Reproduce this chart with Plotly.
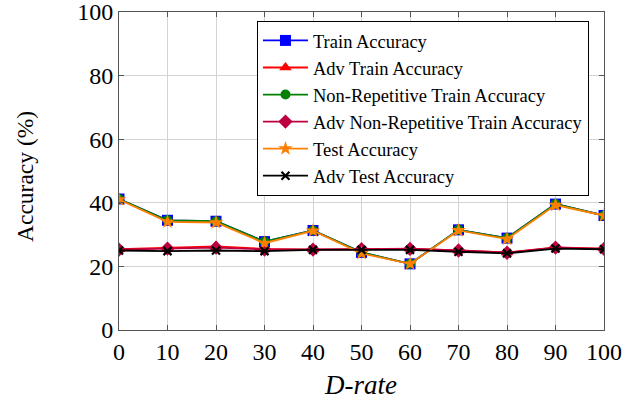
import plotly.graph_objects as go

d_rate = [0, 10, 20, 30, 40, 50, 60, 70, 80, 90, 100]
train_acc = [41.2, 34.5, 34.2, 27.8, 31.3, 24.4, 20.8, 31.5, 28.9, 39.6, 36.0]
adv_train_acc = [25.4, 25.9, 26.3, 25.5, 25.3, 25.4, 25.6, 25.0, 24.4, 26.0, 25.6]
nonrep_train_acc = [41.2, 34.5, 34.2, 27.8, 31.3, 24.4, 20.8, 31.5, 28.9, 39.6, 36.0]
adv_nonrep_train_acc = [25.3, 25.6, 25.9, 25.3, 25.3, 25.4, 25.5, 25.0, 24.3, 25.9, 25.5]
test_acc = [41.0, 34.0, 33.8, 27.3, 31.2, 24.1, 20.8, 31.3, 28.6, 39.3, 36.0]
adv_test_acc = [25.0, 24.8, 25.0, 24.8, 25.2, 25.2, 25.2, 24.6, 24.1, 25.6, 25.4]
y_ticks = [0, 20, 40, 60, 80, 100]

series = [
    ("Train Accuracy", train_acc, "#0000FF", "square", 11),
    ("Adv Train Accuracy", adv_train_acc, "#FF0000", "triangle-up", 11),
    ("Non-Repetitive Train Accuracy", nonrep_train_acc, "#008000", "circle", 10),
    ("Adv Non-Repetitive Train Accuracy", adv_nonrep_train_acc, "#BF0040", "diamond", 11),
    ("Test Accuracy", test_acc, "#FF8000", "star", 11),
    ("Adv Test Accuracy", adv_test_acc, "#000000", "x-thin", 8),
]

fig = go.Figure()
for name, vals, color, sym, size in series:
    fig.add_trace(go.Scatter(
        x=d_rate, y=vals, name=name, mode="lines+markers",
        line=dict(color=color, width=1.8),
        marker=dict(symbol=sym, size=size, color=color,
                    line=dict(color=color, width=2.2 if sym == "x-thin" else 0)),
    ))

font_family = "Liberation Serif, DejaVu Serif, serif"
axis_common = dict(
    showline=True, linecolor="#555555", linewidth=1, mirror="ticks",
    ticks="inside", ticklen=5, tickcolor="#555555",
    showgrid=True, gridcolor="#d3d3d3", gridwidth=1, zeroline=False,
    tickfont=dict(family=font_family, size=24, color="black"),
    automargin=False, ticklabeloverflow="allow",
)
fig.update_layout(
    width=635, height=402,
    margin=dict(l=119, r=31, t=12, b=72),
    paper_bgcolor="white", plot_bgcolor="white",
    font=dict(family=font_family, color="black"),
    xaxis=dict(range=[0, 100], tickmode="array", tickvals=d_rate, **axis_common),
    yaxis=dict(range=[0, 100], tickmode="array", tickvals=y_ticks, **axis_common),
    legend=dict(x=0.969, y=0.972, xanchor="right", yanchor="top",
                bgcolor="white", bordercolor="black", borderwidth=1,
                font=dict(size=18.5, family=font_family),
                tracegroupgap=0, itemwidth=45),
    showlegend=True,
    annotations=[
        dict(text="<i>D-rate</i>", xref="paper", yref="paper", x=0.497, y=-0.173,
             xanchor="center", yanchor="middle", showarrow=False,
             font=dict(size=27, family=font_family)),
        dict(text="Accuracy (%)", xref="paper", yref="paper", x=-0.194, y=0.484,
             xanchor="center", yanchor="middle", showarrow=False, textangle=-90,
             font=dict(size=23.5, family=font_family)),
    ],
)
fig.write_html("out.html", config={"displayModeBar": False},
               post_script="document.body.style.margin='0';")
